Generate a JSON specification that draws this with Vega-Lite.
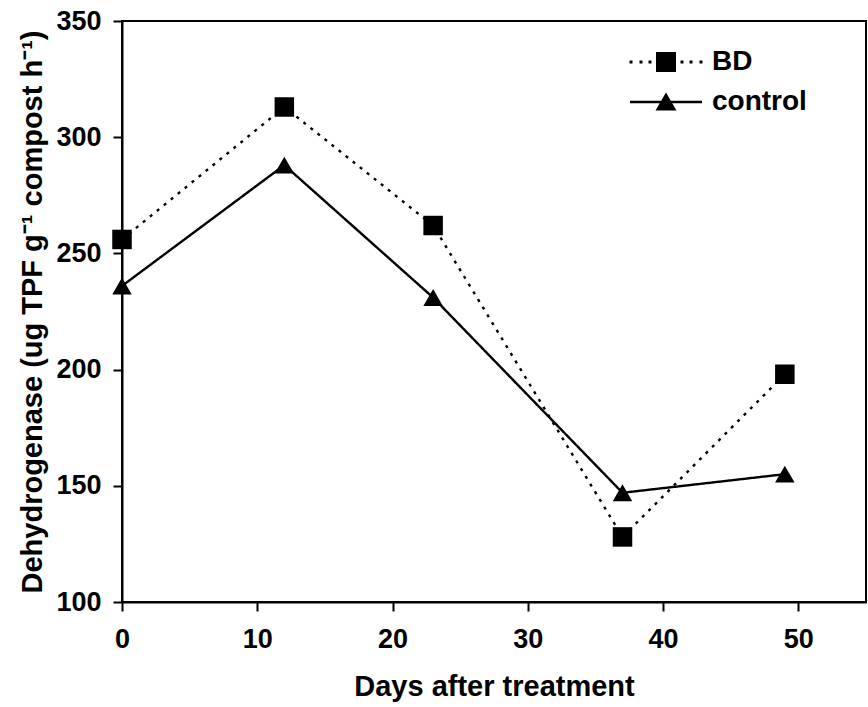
{
  "$schema": "https://vega.github.io/schema/vega-lite/v6.json",
  "width": 744,
  "height": 581,
  "autosize": "none",
  "padding": {"left": 122, "top": 21, "right": 2, "bottom": 105},
  "background": "white",
  "config": {
    "view": {"stroke": "black", "strokeWidth": 2},
    "font": "Liberation Sans"
  },
  "data": {
    "values": [
      {"day": 0, "value": 256, "series": "BD"},
      {"day": 12, "value": 313, "series": "BD"},
      {"day": 23, "value": 262, "series": "BD"},
      {"day": 37, "value": 128, "series": "BD"},
      {"day": 49, "value": 198, "series": "BD"},
      {"day": 0, "value": 236, "series": "control"},
      {"day": 12, "value": 288, "series": "control"},
      {"day": 23, "value": 231, "series": "control"},
      {"day": 37, "value": 147, "series": "control"},
      {"day": 49, "value": 155, "series": "control"}
    ]
  },
  "encoding": {
    "x": {
      "field": "day",
      "type": "quantitative",
      "scale": {"domain": [0, 55], "nice": false, "zero": false},
      "axis": {
        "title": "Days after treatment",
        "values": [0, 10, 20, 30, 40, 50],
        "grid": false,
        "domainColor": "black",
        "domainWidth": 2,
        "tickColor": "black",
        "tickWidth": 2,
        "tickSize": 9,
        "labelFont": "Liberation Sans",
        "labelFontSize": 27,
        "labelFontWeight": "bold",
        "labelColor": "black",
        "labelPadding": 15,
        "labelFlush": false,
        "titleFont": "Liberation Sans",
        "titleFontSize": 29,
        "titleFontWeight": "bold",
        "titleColor": "black",
        "titlePadding": 20
      }
    },
    "y": {
      "field": "value",
      "type": "quantitative",
      "scale": {"domain": [100, 350], "nice": false, "zero": false},
      "axis": {
        "title": "Dehydrogenase (ug TPF g⁻¹ compost h⁻¹)",
        "values": [100, 150, 200, 250, 300, 350],
        "grid": false,
        "domainColor": "black",
        "domainWidth": 2,
        "tickColor": "black",
        "tickWidth": 2,
        "tickSize": 9,
        "labelFont": "Liberation Sans",
        "labelFontSize": 27,
        "labelFontWeight": "bold",
        "labelColor": "black",
        "labelPadding": 12,
        "labelFlush": false,
        "titleFont": "Liberation Sans",
        "titleFontSize": 29,
        "titleFontWeight": "bold",
        "titleColor": "black",
        "titlePadding": 8
      }
    }
  },
  "layer": [
    {
      "mark": {"type": "line", "color": "black", "strokeWidth": 2.4},
      "encoding": {
        "detail": {"field": "series", "type": "nominal"},
        "strokeDash": {
          "condition": {"test": "datum.series === 'BD'", "value": [3, 6]},
          "value": [1, 0]
        }
      }
    },
    {
      "mark": {"type": "point", "filled": true, "color": "black", "opacity": 1, "strokeWidth": 0, "size": 380},
      "encoding": {
        "shape": {
          "condition": {"test": "datum.series === 'BD'", "value": "square"},
          "value": "triangle-up"
        }
      }
    },
    {
      "mark": {"type": "point", "filled": true, "color": "black", "opacity": 0, "strokeWidth": 0, "size": 1},
      "encoding": {
        "shape": {
          "field": "series",
          "type": "nominal",
          "scale": {
            "domain": ["BD", "control"],
            "range": [
              "M-3.65,-0.15H-3.35V0.15H-3.65Z M-2.65,-0.15H-2.35V0.15H-2.65Z M-1.75,-0.15H-1.45V0.15H-1.75Z M-1,-1H1V1H-1Z M1.45,-0.15H1.75V0.15H1.45Z M2.35,-0.15H2.65V0.15H2.35Z M3.35,-0.15H3.65V0.15H3.35Z",
              "M-3.6,-0.12H3.6V0.12H-3.6Z M0,-0.95L1.05,0.85L-1.05,0.85Z"
            ]
          },
          "legend": {
            "title": null,
            "orient": "none",
            "legendX": 530,
            "legendY": 27,
            "padding": 0,
            "symbolSize": 400,
            "symbolFillColor": "black",
            "symbolStrokeColor": "black",
            "symbolStrokeWidth": 0,
            "symbolOpacity": 1,
            "labelFont": "Liberation Sans",
            "labelFontSize": 28,
            "labelFontWeight": "bold",
            "labelColor": "black",
            "labelOffset": 32,
            "rowPadding": 12
          }
        }
      }
    }
  ]
}
